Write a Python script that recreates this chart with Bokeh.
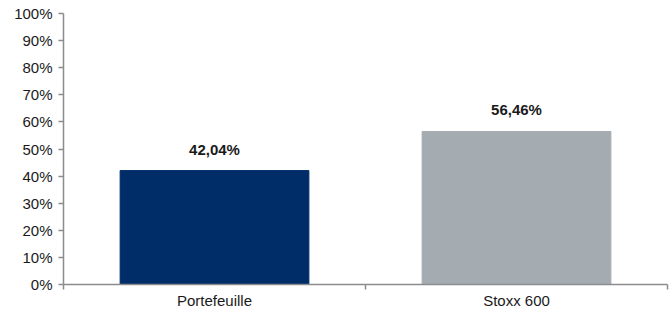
from bokeh.plotting import figure
from bokeh.models import ColumnDataSource, FixedTicker, NumeralTickFormatter, Range1d
from bokeh.core.properties import value
from bokeh.embed import file_html
from bokeh.resources import INLINE

categories = ["Portefeuille", "Stoxx 600"]
values = [0.4204, 0.5646]
labels = ["42,04%", "56,46%"]
colors = ["#002D68", "#A5ACB1"]
positions = [0.5, 1.5]

src = ColumnDataSource(dict(x=positions, top=values, label=labels, color=colors))

p = figure(width=672, height=311, output_backend="svg", toolbar_location=None,
           x_range=Range1d(0, 2), y_range=Range1d(0, 1),
           min_border_left=63, min_border_right=5, min_border_top=13, min_border_bottom=20)
p.outline_line_color = None
p.grid.visible = False
p.background_fill_color = "white"

p.vbar(x="x", top="top", width=0.625, color="color", source=src)
p.text(x="x", y="top", text="label", source=src, text_align="center", text_baseline="bottom",
       y_offset=-13, text_font=value("Liberation Sans"), text_font_style="bold",
       text_font_size="15px", text_color="#1a1a1a")

axis_color = "#8c8c8c"
xa = p.xaxis[0]
xa.ticker = FixedTicker(ticks=positions, minor_ticks=[0, 1, 2])
xa.major_label_overrides = {0.5: categories[0], 1.5: categories[1]}
xa.major_tick_line_color = None
xa.minor_tick_line_color = axis_color
xa.minor_tick_line_width = 1.5
xa.minor_tick_out = 5
xa.minor_tick_in = 0
xa.axis_line_color = axis_color
xa.axis_line_width = 1.5
xa.major_label_text_font = "Liberation Sans"
xa.major_label_text_font_size = "15px"
xa.major_label_text_color = "#1a1a1a"
xa.major_label_standoff = 1

ya = p.yaxis[0]
ya.ticker = FixedTicker(ticks=[i / 10 for i in range(11)])
ya.formatter = NumeralTickFormatter(format="0%")
ya.minor_tick_line_color = None
ya.major_tick_line_color = axis_color
ya.major_tick_line_width = 1.5
ya.major_tick_out = 5
ya.major_tick_in = 0
ya.axis_line_color = axis_color
ya.axis_line_width = 1.5
ya.major_label_text_font = "Liberation Sans"
ya.major_label_text_font_size = "15px"
ya.major_label_text_color = "#1a1a1a"
ya.major_label_standoff = 6

open("out.html", "w").write(file_html(p, INLINE))
